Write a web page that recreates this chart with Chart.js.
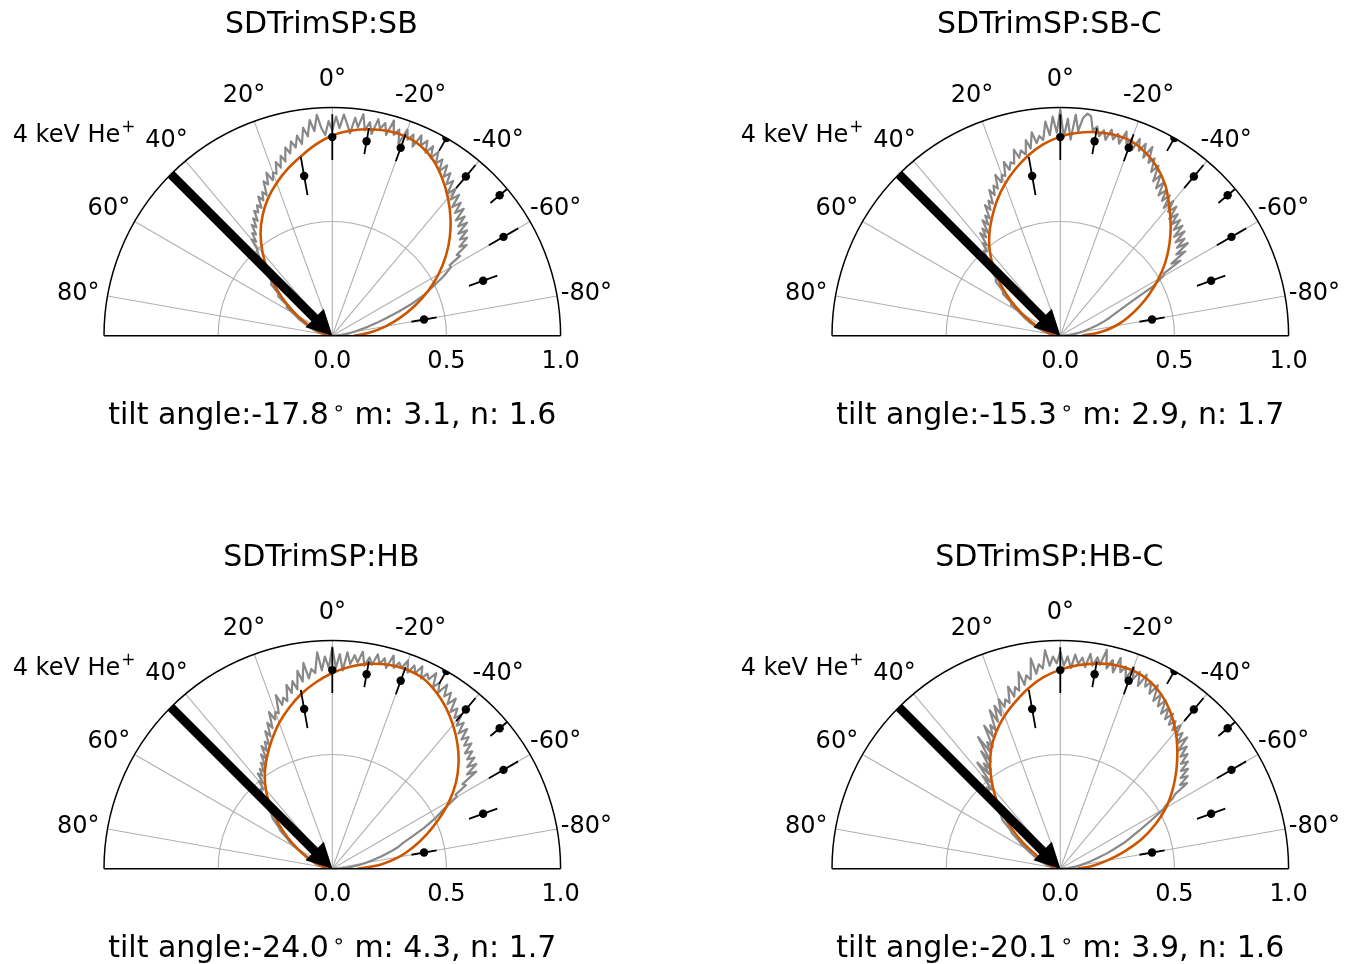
<!DOCTYPE html>
<html><head><meta charset="utf-8">
<script src="https://cdn.jsdelivr.net/npm/chart.js@4.4.1/dist/chart.umd.min.js"></script>
<style>
html,body{margin:0;padding:0;background:#fff;}
#wrap{position:relative;width:1349px;height:964px;overflow:hidden;}
canvas{position:absolute;}
</style></head><body><div id="wrap"></div>
<script>
// ---------- data ----------
const panelTitles = ['SDTrimSP:SB','SDTrimSP:SB-C','SDTrimSP:HB','SDTrimSP:HB-C'];
const tiltAngles = [-17.8, -15.3, -24.0, -20.1];
const mValues = [3.1, 2.9, 4.3, 3.9];
const nValues = [1.6, 1.7, 1.7, 1.6];

const thetaTicks = [80,60,40,20,0,-20,-40,-60,-80];
const radialTicks = [0.0, 0.5, 1.0];
const radialTickLabels = ['0.0','0.5','1.0'];
const gridCircles = [0.5];

const beamLabel = '4 keV He';
const beamAngle = 45;
const beamLength = 1.0;

// experiment
const expAngles = [10,0,-10,-20,-30,-40,-50,-60,-70,-80];
const expR      = [0.71,0.87,0.865,0.876,1.0,0.91,0.957,0.866,0.703,0.408];
const expErr    = [0.085,0.10,0.057,0.063,0.065,0.066,0.053,0.074,0.066,0.056];

// fit curves
const fitAngles = [90,85,80,75,70,65,60,55,50,45,40,35,30,25,20,15,10,5,0,-5,-10,-15,-20,-25,-30,-35,-40,-45,-50,-55,-60,-65,-70,-75,-80,-85,-90];
const fitSB  = [0,0.01,0.025,0.048,0.08,0.122,0.178,0.245,0.318,0.398,0.475,0.548,0.61,0.665,0.712,0.756,0.797,0.84,0.877,0.901,0.918,0.929,0.930,0.917,0.886,0.84,0.788,0.732,0.672,0.607,0.537,0.463,0.386,0.31,0.237,0.166,0.095];
const fitSBC = [0,0.012,0.03,0.058,0.093,0.138,0.195,0.262,0.335,0.41,0.48,0.542,0.598,0.655,0.708,0.757,0.803,0.842,0.872,0.892,0.905,0.911,0.907,0.885,0.85,0.803,0.742,0.684,0.624,0.562,0.496,0.43,0.366,0.305,0.245,0.175,0.095];
const fitHB  = [0,0.01,0.026,0.05,0.082,0.124,0.176,0.24,0.31,0.383,0.453,0.515,0.57,0.625,0.68,0.73,0.778,0.82,0.857,0.888,0.911,0.926,0.931,0.925,0.90,0.865,0.822,0.775,0.722,0.662,0.592,0.515,0.44,0.368,0.297,0.215,0.11];
const fitHBC = [0,0.006,0.015,0.03,0.05,0.08,0.125,0.20,0.285,0.375,0.458,0.535,0.605,0.663,0.713,0.758,0.803,0.842,0.872,0.895,0.912,0.924,0.925,0.912,0.883,0.84,0.786,0.725,0.663,0.60,0.535,0.46,0.38,0.29,0.21,0.14,0.075];

// simulation curves
const simAngles = [90,88,86,84,82,80,78,76,74,72,70,68,66,64,62,60,58,56,54,52,50,48,46,44,42,
  41,40,39,38,37,36,35,34,33,32,31,30,29,28,27,26,25,24,23,22,21,20,19,18,17,16,15,14,13,12,11,10,9,8,7,6,5,4,3,2,1,0,
  -1,-2,-3,-4,-5,-6,-7,-8,-9,-10,-11,-12,-13,-14,-15,-16,-17,-18,-19,-20,-21,-22,-23,-24,-25,-26,-27,-28,-29,-30,
  -31,-32,-33,-34,-35,-36,-37,-38,-39,-40,-41,-42,-43,-44,-45,-46,-47,-48,-49,-50,-51,-52,-53,-54,-55,-56,-57,-58,-59,-60,
  -62,-64,-66,-68,-70,-72,-74,-76,-78,-80,-82,-84,-86,-88,-90];
const simSB = [0,0.01,0.02,0.03,0.035,0.045,0.05,0.065,0.075,0.09,0.10,0.12,0.135,0.16,0.175,0.20,0.235,0.24,0.29,0.30,0.35,0.36,0.42,0.44,0.49,
  0.50,0.55,0.53,0.57,0.555,0.60,0.58,0.62,0.60,0.645,0.63,0.66,0.64,0.69,0.665,0.70,0.68,0.74,0.72,0.77,0.73,0.76,0.75,0.80,0.77,0.82,0.79,0.85,0.82,0.87,0.84,0.89,0.85,0.92,0.88,0.95,0.90,0.97,0.91,0.88,0.94,0.90,
  0.96,0.91,0.97,0.93,0.89,0.96,0.92,0.98,0.91,0.95,0.90,0.97,0.93,0.96,0.91,0.98,0.92,0.95,0.89,0.96,0.92,0.95,0.90,0.96,0.92,0.95,0.90,0.94,0.89,0.93,
  0.88,0.91,0.86,0.90,0.85,0.88,0.83,0.86,0.80,0.84,0.79,0.83,0.77,0.81,0.76,0.80,0.74,0.78,0.73,0.77,0.71,0.75,0.70,0.73,0.68,0.71,0.65,0.66,0.60,0.60,
  0.55,0.49,0.44,0.38,0.31,0.25,0.20,0.16,0.12,0.095,0.075,0.055,0.04,0.02,0];
const simSBC = [0,0.01,0.02,0.03,0.04,0.05,0.06,0.07,0.085,0.10,0.115,0.13,0.15,0.17,0.19,0.21,0.25,0.26,0.31,0.32,0.37,0.38,0.44,0.45,0.50,
  0.49,0.53,0.51,0.57,0.54,0.58,0.55,0.61,0.58,0.62,0.60,0.66,0.63,0.67,0.65,0.71,0.68,0.72,0.70,0.76,0.72,0.75,0.74,0.80,0.76,0.79,0.78,0.84,0.80,0.83,0.81,0.87,0.83,0.90,0.85,0.88,0.86,0.94,0.88,0.96,0.89,0.99,
  0.87,0.95,0.86,0.97,0.90,0.96,0.98,0.97,0.91,0.93,0.89,0.92,0.88,0.93,0.89,0.92,0.88,0.94,0.89,0.92,0.87,0.93,0.88,0.92,0.86,0.92,0.85,0.88,0.82,0.86,
  0.79,0.83,0.77,0.81,0.75,0.79,0.74,0.78,0.72,0.77,0.72,0.76,0.70,0.74,0.69,0.73,0.68,0.72,0.66,0.71,0.65,0.69,0.64,0.69,0.62,0.66,0.58,0.62,0.53,0.52,
  0.46,0.36,0.30,0.26,0.23,0.20,0.17,0.14,0.115,0.095,0.075,0.055,0.04,0.02,0];
const simHB = [0,0.01,0.02,0.025,0.035,0.04,0.05,0.06,0.07,0.085,0.095,0.11,0.125,0.14,0.16,0.19,0.22,0.24,0.28,0.30,0.34,0.36,0.41,0.43,0.47,
  0.46,0.50,0.48,0.53,0.51,0.54,0.52,0.56,0.54,0.59,0.56,0.62,0.59,0.63,0.61,0.67,0.64,0.70,0.67,0.74,0.70,0.73,0.72,0.80,0.75,0.78,0.76,0.83,0.79,0.84,0.80,0.88,0.83,0.91,0.84,0.88,0.86,0.95,0.87,0.93,0.88,0.97,
  0.88,0.94,0.87,0.95,0.90,0.94,0.91,0.96,0.90,0.94,0.91,0.96,0.92,0.95,0.91,0.97,0.92,0.95,0.93,0.97,0.92,0.96,0.93,0.97,0.92,0.95,0.93,0.97,0.91,0.94,
  0.90,0.95,0.90,0.93,0.88,0.92,0.86,0.89,0.85,0.88,0.83,0.86,0.81,0.85,0.80,0.83,0.79,0.82,0.77,0.80,0.76,0.79,0.74,0.78,0.72,0.76,0.68,0.69,0.63,0.63,
  0.55,0.50,0.44,0.38,0.33,0.30,0.26,0.22,0.18,0.15,0.12,0.09,0.06,0.03,0];
const simHBC = [0,0.01,0.015,0.02,0.03,0.035,0.045,0.055,0.065,0.075,0.085,0.10,0.115,0.13,0.15,0.17,0.20,0.22,0.26,0.28,0.33,0.35,0.41,0.43,0.48,
  0.46,0.53,0.49,0.59,0.52,0.57,0.53,0.62,0.56,0.68,0.60,0.64,0.61,0.71,0.65,0.70,0.67,0.76,0.70,0.77,0.72,0.79,0.75,0.78,0.76,0.83,0.78,0.82,0.80,0.88,0.82,0.86,0.84,0.93,0.86,0.90,0.88,0.96,0.89,0.93,0.90,0.95,
  0.89,0.93,0.88,0.94,0.90,0.93,0.89,0.95,0.90,0.94,0.91,0.98,0.90,0.94,0.89,0.96,0.90,0.93,0.88,0.94,0.89,0.93,0.87,0.93,0.88,0.91,0.86,0.91,0.84,0.88,
  0.83,0.87,0.81,0.85,0.80,0.84,0.79,0.82,0.78,0.82,0.77,0.80,0.75,0.80,0.73,0.77,0.72,0.75,0.70,0.73,0.68,0.71,0.66,0.69,0.64,0.67,0.60,0.58,0.54,0.52,
  0.45,0.39,0.34,0.30,0.25,0.21,0.17,0.14,0.11,0.09,0.07,0.05,0.035,0.02,0];

const fitSeries = [fitSB, fitSBC, fitHB, fitHBC];
const simSeries = [simSB, simSBC, simHB, simHBC];

// ---------- helpers ----------
const FONT = '"DejaVu Sans", "Liberation Sans", sans-serif';
function toXY(deg, r){ const a = deg*Math.PI/180; return {x: -r*Math.sin(a), y: r*Math.cos(a)}; }

const decor = {
  id: 'decor',
  beforeDatasetsDraw(chart, args, opts){
    const ctx = chart.ctx, xs = chart.scales.x, ys = chart.scales.y;
    const cx = xs.getPixelForValue(0), cy = ys.getPixelForValue(0);
    const R = xs.getPixelForValue(1) - cx;
    ctx.save();
    ctx.strokeStyle = '#b0b0b0'; ctx.lineWidth = 1.1;
    thetaTicks.forEach(t => {
      const p = toXY(t, 1);
      ctx.beginPath(); ctx.moveTo(cx, cy);
      ctx.lineTo(xs.getPixelForValue(p.x), ys.getPixelForValue(p.y)); ctx.stroke();
    });
    gridCircles.forEach(rr => {
      ctx.beginPath(); ctx.arc(cx, cy, xs.getPixelForValue(rr) - cx, Math.PI, 2*Math.PI); ctx.stroke();
    });
    ctx.restore();
    ctx.save();
    ctx.beginPath(); ctx.moveTo(cx - R, cy); ctx.arc(cx, cy, R, Math.PI, 2*Math.PI); ctx.closePath(); ctx.clip();
  },
  afterDatasetsDraw(chart, args, opts){
    const ctx = chart.ctx, xs = chart.scales.x, ys = chart.scales.y;
    ctx.restore();
    const cx = xs.getPixelForValue(0), cy = ys.getPixelForValue(0);
    const R = xs.getPixelForValue(1) - cx;
    const i = opts.index;
    ctx.save();
    // spines
    ctx.strokeStyle = '#000'; ctx.lineWidth = 1.5;
    ctx.beginPath(); ctx.arc(cx, cy, R, Math.PI, 2*Math.PI); ctx.stroke();
    ctx.beginPath(); ctx.moveTo(cx - R, cy); ctx.lineTo(cx + R, cy); ctx.stroke();
    // beam arrow
    const s = toXY(beamAngle, beamLength);
    const sx = xs.getPixelForValue(s.x), sy = ys.getPixelForValue(s.y);
    const tx = cx, ty = cy;
    const L = Math.hypot(tx - sx, ty - sy), ux = (tx - sx)/L, uy = (ty - sy)/L;
    const hl = 25, hw = 13, sw = 9, px = -uy, py = ux;
    const bx = tx - ux*hl, by = ty - uy*hl;
    ctx.fillStyle = '#000';
    ctx.beginPath();
    ctx.moveTo(sx + px*sw/2, sy + py*sw/2);
    ctx.lineTo(bx + px*sw/2, by + py*sw/2);
    ctx.lineTo(bx + px*hw, by + py*hw);
    ctx.lineTo(tx, ty);
    ctx.lineTo(bx - px*hw, by - py*hw);
    ctx.lineTo(bx - px*sw/2, by - py*sw/2);
    ctx.lineTo(sx - px*sw/2, sy - py*sw/2);
    ctx.closePath(); ctx.fill();
    // theta tick labels
    const fs = 24;
    ctx.font = fs + 'px ' + FONT; ctx.fillStyle = '#000'; ctx.textAlign = 'center'; ctx.textBaseline = 'alphabetic';
    thetaTicks.forEach(t => {
      const p = toXY(t, 1.13);
      ctx.fillText(t + '\u00b0', xs.getPixelForValue(p.x), ys.getPixelForValue(p.y) + 0.365*fs);
    });
    // radial tick labels
    radialTicks.forEach((r, k) => {
      ctx.fillText(radialTickLabels[k], xs.getPixelForValue(r), cy + 24 + 0.365*fs);
    });
    // beam label
    ctx.textAlign = 'left';
    const bxL = cx - 319.6, byL = cy - 193.4;
    ctx.fillText(beamLabel, bxL, byL);
    const wB = ctx.measureText(beamLabel).width;
    ctx.font = Math.round(fs*0.72) + 'px ' + FONT;
    ctx.fillText('+', bxL + wB + 1, byL - 0.42*fs);
    // title
    const tf = 30;
    ctx.font = tf + 'px ' + FONT; ctx.textAlign = 'center';
    ctx.fillText(panelTitles[i], cx - 11, cy - 314 + 0.365*tf);
    // bottom annotation
    const s1 = 'tilt angle:' + tiltAngles[i].toFixed(1);
    const s3 = 'm: ' + mValues[i].toFixed(1) + ', n: ' + nValues[i].toFixed(1);
    const w1 = ctx.measureText(s1).width, w3 = ctx.measureText(s3).width;
    const ringGap = 0.85*tf;
    const total = w1 + ringGap + w3;
    const x0 = cx - total/2, base = cy + 77 + 0.365*tf;
    ctx.textAlign = 'left';
    ctx.fillText(s1, x0, base);
    ctx.fillText(s3, x0 + w1 + ringGap, base);
    ctx.font = '21px ' + FONT; ctx.textAlign = 'center';
    ctx.fillText('\u2218', x0 + w1 + 0.33*tf, base - 0.3*tf);
    ctx.restore();
  }
};

// ---------- build charts ----------
const RADIUS = 228.3;
const centers = [[332.3,335.7],[1060.3,335.7],[332.3,868.7],[1060.3,868.7]];
const wrap = document.getElementById('wrap');

panelTitles.forEach((title, i) => {
  const col = i % 2, row = Math.floor(i/2);
  const left = col*674, top = row*482, w = col ? 675 : 674, h = 482;
  const cv = document.createElement('canvas');
  cv.width = w; cv.height = h;
  cv.style.left = left + 'px'; cv.style.top = top + 'px';
  cv.style.width = w + 'px'; cv.style.height = h + 'px';
  wrap.appendChild(cv);
  const [cx, cy] = centers[i];

  const errData = [];
  expAngles.forEach((a, k) => {
    errData.push(toXY(a, expR[k] - expErr[k]));
    errData.push(toXY(a, expR[k] + expErr[k]));
    errData.push({x: null, y: null});
  });

  new Chart(cv, {
    type: 'scatter',
    data: { datasets: [
      { data: expAngles.map((a, k) => toXY(a, expR[k])), showLine: false,
        pointRadius: 4.2, pointHoverRadius: 4.2, pointBackgroundColor: '#000', pointBorderWidth: 0 },
      { data: errData, showLine: true, spanGaps: false, pointRadius: 0, borderColor: '#000', borderWidth: 1.8 },
      { data: fitAngles.map((a, k) => toXY(a, fitSeries[i][k])), showLine: true, pointRadius: 0,
        borderColor: '#cc5500', borderWidth: 2.6, tension: 0.35 },
      { data: simAngles.map((a, k) => toXY(a, simSeries[i][k])), showLine: true, pointRadius: 0,
        borderColor: '#888888', borderWidth: 2.2, borderJoinStyle: 'round' }
    ]},
    options: {
      responsive: false, animation: false, devicePixelRatio: 1, events: [],
      layout: { padding: { left: cx - RADIUS - left, right: left + w - (cx + RADIUS), top: cy - RADIUS - top, bottom: top + h - cy } },
      scales: {
        x: { type: 'linear', min: -1, max: 1, display: false },
        y: { type: 'linear', min: 0, max: 1, display: false }
      },
      plugins: { legend: { display: false }, tooltip: { enabled: false }, decor: { index: i } }
    },
    plugins: [decor]
  });
});
</script>
</body></html>
